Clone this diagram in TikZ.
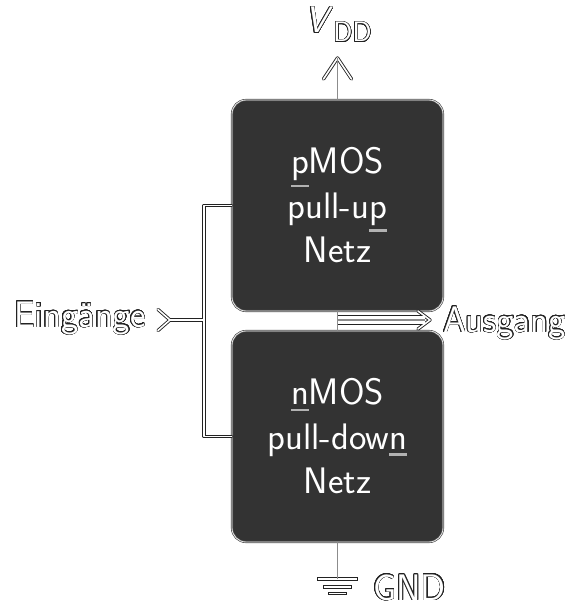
\documentclass[tikz,border=0pt]{standalone}
\usepackage{fontspec}
\usepackage[copies]{contour}
\usetikzlibrary{calc}

\definecolor{netzgrau}{HTML}{333333}
\definecolor{randgrau}{HTML}{222222}
\contourlength{0.3pt}
\contournumber{24}

\newcommand{\netzfont}{\sffamily\fontsize{21}{25.3}\selectfont}
\newcommand{\umriss}[1]{{\color{white}\contour{randgrau}{#1}}}
\newcommand{\unterstr}[1]{\setbox0\hbox{#1}\rlap{\color{black!30}\rule[\dimexpr-\dp0-3.5pt\relax]{\wd0}{1.4pt}}\box0}

\tikzset{
  netz/.style={draw=black!70, line width=0.35pt, double=white!90!black, double distance=0.5pt,
    fill=netzgrau, rounded corners=0.28cm, minimum width=4.22cm, minimum height=4.22cm,
    text=white, align=center, font=\netzfont},
  beschr/.style={inner sep=0pt, font=\netzfont},
  draht/.style={draw=randgrau, line width=1.9pt, line cap=round, line join=round},
  drahtinnen/.style={draw=white, line width=0.9pt, line cap=round, line join=round},
  dick/.style={draw=randgrau, line width=5.6pt},
  dickinnen/.style={draw=white, line width=4.4pt},
  leitung/.style={draw=black!45, line width=0.8pt},
}

\begin{document}
\begin{tikzpicture}

\useasboundingbox (0,0) rectangle (11.68,-12.22);

% die beiden Netze
\node [netz] (pup) at (6.75,-4.11) {\unterstr{p}MOS\\pull-u\unterstr{p}\\Netz};
\node [netz] (pdn) at (6.75,-8.73) {\unterstr{n}MOS\\pull-dow\unterstr{n}\\Netz};

\coordinate (vddspitze) at (6.75,-1.16);
\coordinate (einspitze) at (3.4,-6.4);
\coordinate (gabel) at (4.08,-6.4);
\coordinate (ausmitte) at (6.75,-6.4);
\coordinate (ausspitze) at (8.6,-6.4);
\coordinate (masse) at (6.75,-11.58);

\node [beschr, anchor=base] (vdd) at (6.77,-0.66) {\umriss{\textit{V}\raisebox{-5pt}{\fontsize{16}{16}\selectfont DD}}};
\node [beschr, anchor=base east] (ein) at (2.92,-6.54) {\umriss{Eingänge}};
\node [beschr, anchor=base west] (aus) at (8.86,-6.64) {\umriss{Ausgang}};
\node [beschr, anchor=base west] (gnd) at (7.46,-12.0) {\umriss{GND}};

% Leitungen, erst Rand dann Innenseite
\foreach \lage/\breit in {draht/dick, drahtinnen/dickinnen} {
  \draw [\breit] (ausmitte) -- ($(ausspitze)+(-0.1,0)$);
  \draw [\lage] (pup.west) -| (gabel) |- (pdn.west);
  \draw [\lage] (einspitze) -- (gabel);
  \draw [\lage] ($(einspitze)+(-0.24,0.21)$) -- (einspitze) -- ($(einspitze)+(-0.24,-0.21)$);
  \draw [\lage] ($(vddspitze)+(-0.28,-0.42)$) -- (vddspitze) -- ($(vddspitze)+(0.28,-0.42)$);
  \draw [\lage] ($(ausspitze)+(-0.24,0.18)$) -- (ausspitze) -- ($(ausspitze)+(-0.24,-0.18)$);
  \draw [\lage, line cap=rect] ($(masse)+(-0.38,0)$) -- ($(masse)+(0.38,0)$);
  \draw [\lage, line cap=rect] ($(masse)+(-0.26,-0.16)$) -- ($(masse)+(0.26,-0.16)$);
  \draw [\lage, line cap=rect] ($(masse)+(-0.16,-0.29)$) -- ($(masse)+(0.16,-0.29)$);
}

\draw [leitung] (pup.north) -- (vddspitze);
\draw [leitung] (pup.south) -- (pdn.north);
\draw [leitung] (ausmitte) -- ($(ausspitze)+(-0.1,0)$);
\draw [leitung] (pdn.south) -- (masse);

\end{tikzpicture}
\end{document}
